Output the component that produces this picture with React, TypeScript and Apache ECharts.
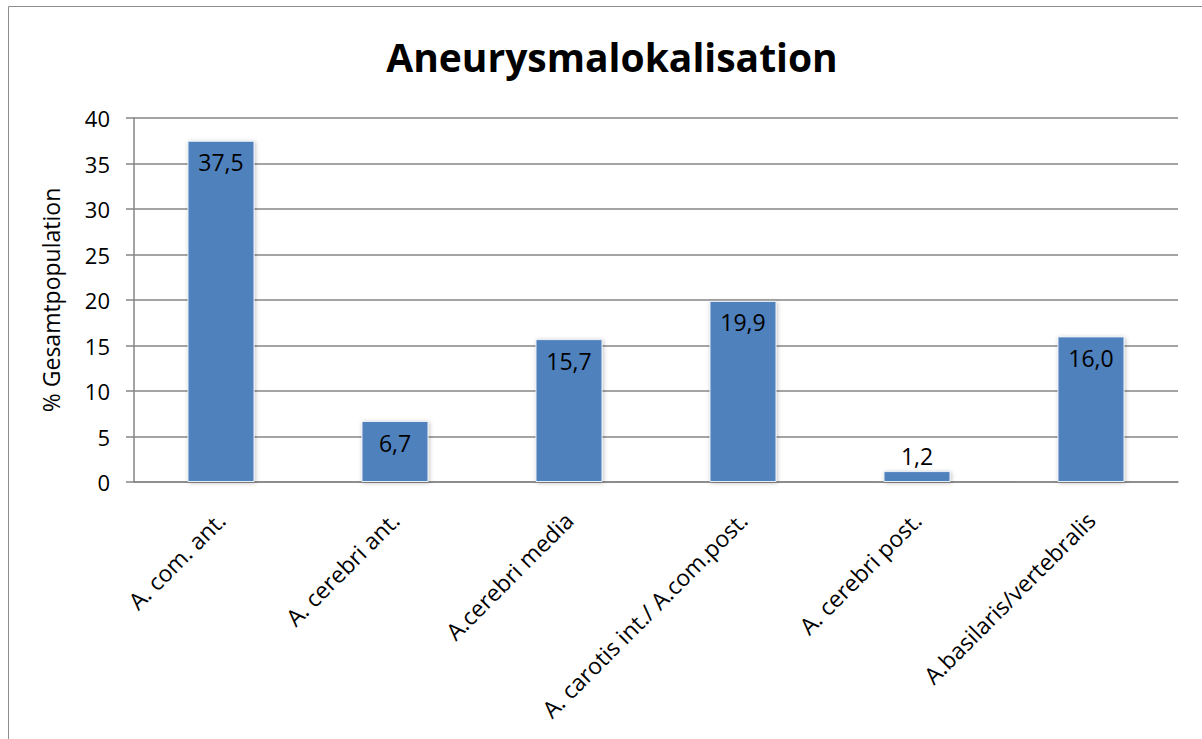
import React, { useEffect, useRef } from "react";
import * as echarts from "echarts";

const categories = [
  "A. com. ant.",
  "A. cerebri ant.",
  "A.cerebri media",
  "A. carotis int./ A.com.post.",
  "A. cerebri post.",
  "A.basilaris/vertebralis",
];
const values = [37.5, 6.7, 15.7, 19.9, 1.2, 16.0];
const yTicks = { min: 0, max: 40, interval: 5 };
const titleText = "Aneurysmalokalisation";
const yAxisName = "% Gesamtpopulation";

const FONT = "'Open Sans', Lato, sans-serif";

export default function App() {
  const ref = useRef<HTMLDivElement>(null);
  useEffect(() => {
    const chart = echarts.init(ref.current!, null, { renderer: "svg" });
    const fmt = (v: number) => v.toFixed(1).replace(".", ",");
    chart.setOption({
      animation: false,
      backgroundColor: "#ffffff",
      title: {
        text: titleText,
        left: 607,
        textAlign: "center",
        top: 32,
        textStyle: { fontFamily: FONT, fontSize: 39, fontWeight: "bold", color: "#000" },
      },
      graphic: [
        {
          type: "rect",
          shape: { x: 8.5, y: 6.5, width: 1300, height: 900 },
          style: { fill: "none", stroke: "#8c8c8c", lineWidth: 1 },
          silent: true,
        },
      ],
      grid: { left: 134, right: 24, top: 118, bottom: 257 },
      xAxis: {
        type: "category",
        data: categories,
        axisLine: { show: true, lineStyle: { color: "#868686", width: 1.5 } },
        axisTick: { show: false },
        axisLabel: {
          rotate: 45,
          interval: 0,
          margin: 34,
          fontFamily: FONT,
          fontSize: 23,
          color: "#000",
        },
      },
      yAxis: {
        type: "value",
        min: yTicks.min,
        max: yTicks.max,
        interval: yTicks.interval,
        name: yAxisName,
        nameLocation: "middle",
        nameGap: 72,
        nameRotate: 90,
        nameTextStyle: { fontFamily: FONT, fontSize: 23, color: "#000" },
        axisLine: { show: true, lineStyle: { color: "#868686", width: 1.5 } },
        axisTick: { show: true, length: 8, lineStyle: { color: "#868686", width: 1.5 } },
        axisLabel: { fontFamily: FONT, fontSize: 22, color: "#000", margin: 24 },
        splitLine: { show: true, lineStyle: { color: "#868686", width: 1.5 } },
      },
      series: [
        {
          type: "bar",
          barWidth: "38.5%",
          data: values.map((v) => ({
            value: v,
            label: v < 4 ? { position: "top", distance: 4 } : { position: "insideTop", distance: 10 },
          })),
          itemStyle: {
            color: "#4F81BD",
            borderColor: "#e8eef6",
            borderWidth: 1,
            shadowColor: "rgba(0,0,0,0.25)",
            shadowBlur: 4,
            shadowOffsetX: 1,
            shadowOffsetY: 1,
          },
          label: {
            show: true,
            formatter: (p: any) => fmt(p.value),
            fontFamily: FONT,
            fontSize: 23,
            color: "#000",
          },
        },
      ],
    });
    return () => chart.dispose();
  }, []);
  return (
    <div
      ref={ref}
      style={{ position: "fixed", left: 0, top: 0, width: 1202, height: 739 }}
    />
  );
}
